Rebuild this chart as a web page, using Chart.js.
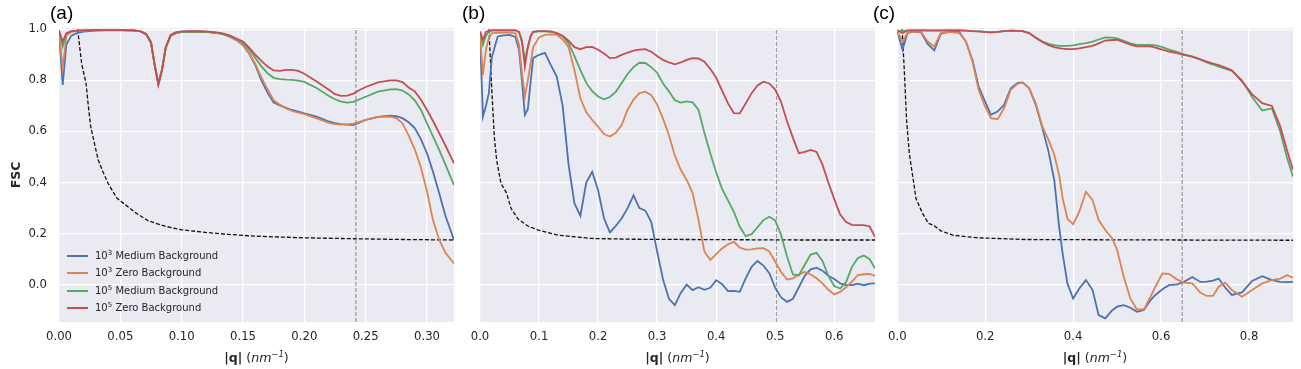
<!DOCTYPE html>
<html>
<head>
<meta charset="utf-8">
<script src="https://cdn.jsdelivr.net/npm/chart.js@4.4.1/dist/chart.umd.min.js"></script>
<style>
  body { margin: 0; background: #fff; }
  #wrap { position: relative; width: 1301px; height: 369px; overflow: hidden; font-family: "DejaVu Sans", sans-serif; color: #262626; }
  canvas { position: absolute; top: 0; }
  .tag { position: absolute; top: 3px; font: 19px/19px "Liberation Sans", Arial, sans-serif; color: #000; }
  .xtitle { position: absolute; top: 350px; width: 200px; text-align: center; font-size: 12.5px; line-height: 15px; white-space: nowrap; }
  .xtitle sup { font-size: 8.5px; vertical-align: 5px; line-height: 0; }
  #legend { position: absolute; left: 67px; top: 247px; font-size: 10px; }
  #legend div { height: 17.33px; line-height: 17.33px; white-space: nowrap; }
  #legend sup { font-size: 7px; vertical-align: 4px; line-height: 0; }
  #legend .ln { display: inline-block; width: 21px; height: 2px; vertical-align: middle; margin-right: 7px; }
</style>
</head>
<body>
<div id="wrap">
  <canvas id="panelA" width="460" height="369" style="left:0px"></canvas>
  <canvas id="panelB" width="420" height="369" style="left:460px"></canvas>
  <canvas id="panelC" width="421" height="369" style="left:880px"></canvas>

  <div class="tag" style="left:50px">(a)</div>
  <div class="tag" style="left:462px">(b)</div>
  <div class="tag" style="left:873px">(c)</div>

  <div class="xtitle" style="left:156.5px"><b>|q|</b> (<i>nm<sup>−1</sup></i>)</div>
  <div class="xtitle" style="left:577.5px"><b>|q|</b> (<i>nm<sup>−1</sup></i>)</div>
  <div class="xtitle" style="left:995px"><b>|q|</b> (<i>nm<sup>−1</sup></i>)</div>

  <div id="legend">
    <div><span class="ln" style="background:#4c72b0"></span>10<sup>3</sup> Medium Background</div>
    <div><span class="ln" style="background:#dd8452"></span>10<sup>3</sup> Zero Background</div>
    <div><span class="ln" style="background:#55a868"></span>10<sup>5</sup> Medium Background</div>
    <div><span class="ln" style="background:#c44e52"></span>10<sup>5</sup> Zero Background</div>
  </div>
</div>

<script>
const seriesNames = ["10³ Medium Background", "10³ Zero Background", "10⁵ Medium Background", "10⁵ Zero Background"];
const colors = ["#4c72b0", "#dd8452", "#55a868", "#c44e52"];

const yMin = -0.146;
const yMax = 1.005;
const yTicks = [0, 0.2, 0.4, 0.6, 0.8, 1.0];

// panel (a)
const xTicksA = [0, 0.05, 0.1, 0.15, 0.2, 0.25, 0.3];
const xA = [0, 0.003, 0.006, 0.01, 0.015, 0.02, 0.03, 0.04, 0.05, 0.06, 0.066, 0.071, 0.075, 0.078, 0.081, 0.084, 0.087, 0.091, 0.095, 0.1, 0.11, 0.12, 0.13, 0.135, 0.14, 0.145, 0.15, 0.155, 0.16, 0.165, 0.17, 0.175, 0.18, 0.185, 0.19, 0.195, 0.2, 0.21, 0.22, 0.225, 0.23, 0.235, 0.24, 0.245, 0.25, 0.26, 0.27, 0.275, 0.28, 0.285, 0.29, 0.295, 0.3, 0.305, 0.31, 0.315, 0.322];
const blueA = [0.99, 0.782, 0.94, 0.975, 0.986, 0.991, 0.995, 0.996, 0.997, 0.996, 0.993, 0.98, 0.945, 0.86, 0.79, 0.845, 0.93, 0.975, 0.985, 0.99, 0.992, 0.99, 0.985, 0.979, 0.969, 0.956, 0.938, 0.905, 0.86, 0.8, 0.752, 0.713, 0.702, 0.692, 0.684, 0.678, 0.671, 0.658, 0.639, 0.633, 0.629, 0.627, 0.625, 0.635, 0.645, 0.657, 0.662, 0.66, 0.652, 0.636, 0.613, 0.57, 0.514, 0.44, 0.357, 0.27, 0.175];
const orangeA = [0.993, 0.848, 0.975, 0.99, 0.994, 0.995, 0.997, 0.997, 0.997, 0.996, 0.993, 0.981, 0.948, 0.86, 0.785, 0.842, 0.928, 0.975, 0.985, 0.99, 0.992, 0.99, 0.985, 0.979, 0.97, 0.957, 0.94, 0.905, 0.865, 0.812, 0.765, 0.722, 0.705, 0.69, 0.68, 0.674, 0.668, 0.651, 0.634, 0.629, 0.627, 0.628, 0.631, 0.638, 0.645, 0.657, 0.658, 0.652, 0.632, 0.585, 0.53, 0.46, 0.365, 0.25, 0.175, 0.125, 0.083];
const greenA = [0.995, 0.932, 0.982, 0.992, 0.995, 0.996, 0.997, 0.997, 0.997, 0.996, 0.993, 0.982, 0.95, 0.86, 0.785, 0.84, 0.925, 0.975, 0.985, 0.99, 0.991, 0.99, 0.985, 0.98, 0.971, 0.96, 0.948, 0.92, 0.888, 0.855, 0.828, 0.81, 0.805, 0.803, 0.802, 0.799, 0.794, 0.77, 0.739, 0.726, 0.717, 0.713, 0.716, 0.726, 0.736, 0.756, 0.765, 0.766, 0.76, 0.745, 0.722, 0.685, 0.632, 0.58, 0.527, 0.47, 0.39];
const redA = [0.995, 0.952, 0.985, 0.993, 0.995, 0.996, 0.997, 0.997, 0.997, 0.996, 0.993, 0.982, 0.95, 0.86, 0.782, 0.84, 0.93, 0.978, 0.988, 0.992, 0.993, 0.992, 0.987, 0.982, 0.974, 0.963, 0.952, 0.928, 0.901, 0.876, 0.854, 0.839, 0.837, 0.841, 0.841, 0.837, 0.826, 0.796, 0.763, 0.746, 0.739, 0.74, 0.748, 0.762, 0.774, 0.792, 0.8, 0.8, 0.793, 0.772, 0.757, 0.725, 0.684, 0.64, 0.593, 0.545, 0.475];
const thrXA = [0.0152, 0.0185, 0.022, 0.0239, 0.0258, 0.029, 0.032, 0.036, 0.04, 0.047, 0.0538, 0.062, 0.0728, 0.0864, 0.1, 0.119, 0.138, 0.16, 0.196, 0.24, 0.28, 0.322];
const thrYA = [1.0, 0.864, 0.79, 0.7, 0.62, 0.55, 0.488, 0.44, 0.397, 0.34, 0.314, 0.283, 0.25, 0.229, 0.215, 0.205, 0.197, 0.19, 0.184, 0.18, 0.177, 0.175];
const cutA = 0.242;

// panel (b)
const xTicksB = [0, 0.1, 0.2, 0.3, 0.4, 0.5, 0.6];
const xB = [0, 0.005, 0.01, 0.015, 0.02, 0.03, 0.04, 0.05, 0.06, 0.066, 0.071, 0.076, 0.081, 0.086, 0.09,
  0.1, 0.11, 0.12, 0.13, 0.14, 0.15, 0.16, 0.17, 0.18, 0.19, 0.2, 0.21, 0.22, 0.23, 0.24, 0.25, 0.26, 0.27, 0.28, 0.29,
  0.3, 0.31, 0.32, 0.33, 0.34, 0.35, 0.36, 0.37, 0.38, 0.39, 0.4, 0.41, 0.42, 0.43, 0.44, 0.45, 0.46, 0.47, 0.48, 0.49,
  0.5, 0.51, 0.52, 0.53, 0.54, 0.55, 0.56, 0.57, 0.58, 0.59, 0.6, 0.61, 0.62, 0.63, 0.64, 0.65, 0.66, 0.669];
const blueB = [0.98, 0.658, 0.7, 0.75, 0.89, 0.972, 0.976, 0.978, 0.97, 0.92, 0.8, 0.665, 0.687, 0.8, 0.887,
  0.9, 0.908, 0.86, 0.815, 0.7, 0.47, 0.318, 0.27, 0.4, 0.442, 0.37, 0.26, 0.205, 0.23, 0.26, 0.3, 0.35, 0.3, 0.29, 0.246,
  0.13, 0.02, -0.055, -0.08, -0.032, 0.0, -0.021, -0.01, -0.02, -0.012, 0.018, 0.002, -0.025, -0.024, -0.028, 0.025, 0.07, 0.093, 0.075, 0.045,
  -0.012, -0.05, -0.067, -0.055, -0.01, 0.035, 0.06, 0.067, 0.055, 0.035, 0.022, 0.005, -0.002, -0.002, 0.004, -0.002, 0.004, 0.005];
const orangeB = [0.985, 0.82, 0.92, 0.965, 0.985, 0.986, 0.987, 0.987, 0.984, 0.94, 0.83, 0.737, 0.8, 0.87, 0.93,
  0.968, 0.978, 0.98, 0.978, 0.96, 0.93, 0.84, 0.73, 0.675, 0.645, 0.619, 0.59, 0.58, 0.595, 0.625, 0.685, 0.725, 0.75, 0.756, 0.743,
  0.705, 0.65, 0.585, 0.505, 0.45, 0.41, 0.36, 0.255, 0.13, 0.097, 0.12, 0.142, 0.158, 0.168, 0.145, 0.137, 0.138, 0.142, 0.143, 0.13,
  0.09, 0.05, 0.02, 0.025, 0.04, 0.05, 0.04, 0.025, 0.005, -0.02, -0.038, -0.028, -0.01, 0.012, 0.038, 0.041, 0.042, 0.034];
const greenB = [0.991, 0.939, 0.975, 0.99, 0.996, 0.996, 0.996, 0.996, 0.996, 0.99, 0.95, 0.88, 0.93, 0.975, 0.99,
  0.992, 0.992, 0.99, 0.985, 0.972, 0.945, 0.895, 0.84, 0.79, 0.758, 0.737, 0.726, 0.735, 0.755, 0.79, 0.825, 0.852, 0.869, 0.868, 0.852,
  0.83, 0.788, 0.757, 0.722, 0.713, 0.718, 0.714, 0.685, 0.595, 0.515, 0.44, 0.375, 0.33, 0.285, 0.227, 0.19, 0.198, 0.225, 0.253, 0.266,
  0.252, 0.195, 0.11, 0.04, 0.036, 0.078, 0.118, 0.125, 0.093, 0.035, -0.005, -0.015, 0.01, 0.07, 0.105, 0.114, 0.1, 0.063];
const redB = [0.991, 0.959, 0.99, 0.995, 0.996, 0.996, 0.996, 0.996, 0.996, 0.99, 0.955, 0.854, 0.93, 0.975, 0.99,
  0.993, 0.993, 0.992, 0.985, 0.975, 0.955, 0.93, 0.922, 0.93, 0.931, 0.92, 0.905, 0.887, 0.889, 0.9, 0.909, 0.916, 0.92, 0.922, 0.912,
  0.895, 0.88, 0.87, 0.863, 0.87, 0.88, 0.887, 0.886, 0.873, 0.845, 0.81, 0.76, 0.71, 0.672, 0.671, 0.71, 0.75, 0.78, 0.795, 0.788,
  0.764, 0.715, 0.64, 0.575, 0.515, 0.52, 0.528, 0.52, 0.47, 0.4, 0.335, 0.275, 0.245, 0.234, 0.233, 0.233, 0.228, 0.187];
const thrXB = [0.0152, 0.0197, 0.0242, 0.0282, 0.0355, 0.0451, 0.0525, 0.0649, 0.0818, 0.0987, 0.1325, 0.189, 0.26, 0.35, 0.45, 0.55, 0.669];
const thrYB = [1.0, 0.776, 0.58, 0.488, 0.397, 0.358, 0.299, 0.256, 0.229, 0.214, 0.194, 0.181, 0.178, 0.177, 0.176, 0.175, 0.175];
const cutB = 0.502;

// panel (c)
const xTicksC = [0, 0.2, 0.4, 0.6, 0.8];
const xC = [0, 0.012, 0.023, 0.035, 0.054, 0.069, 0.084, 0.099, 0.118, 0.141,
  0.156, 0.171, 0.185, 0.198, 0.213, 0.228, 0.243, 0.258, 0.273, 0.285,
  0.3, 0.315, 0.33, 0.344, 0.357, 0.368, 0.376, 0.387, 0.4, 0.414,
  0.429, 0.444, 0.458, 0.473, 0.489, 0.5, 0.515, 0.53, 0.545, 0.561,
  0.576, 0.587, 0.603, 0.618, 0.636, 0.652, 0.671, 0.689, 0.704, 0.718,
  0.731, 0.746, 0.761, 0.784, 0.807, 0.83, 0.852, 0.871, 0.886, 0.9];
const blueC = [0.991, 0.92, 0.985, 0.991, 0.988, 0.943, 0.917, 0.983, 0.99, 0.99,
  0.952, 0.88, 0.776, 0.724, 0.665, 0.678, 0.704, 0.769, 0.789, 0.792,
  0.769, 0.704, 0.613, 0.521, 0.41, 0.227, 0.123, 0.004, -0.054, -0.015,
  0.018, -0.02, -0.119, -0.132, -0.1, -0.086, -0.08, -0.09, -0.106, -0.099,
  -0.06, -0.04, -0.018, -0.002, 0.001, 0.011, 0.03, 0.011, 0.012, 0.016,
  0.024, -0.012, -0.04, -0.03, 0.015, 0.033, 0.018, 0.011, 0.01, 0.011];
const orangeC = [0.991, 0.952, 0.985, 0.99, 0.99, 0.952, 0.932, 0.985, 0.99, 0.985,
  0.952, 0.874, 0.763, 0.704, 0.652, 0.648, 0.691, 0.763, 0.786, 0.792,
  0.769, 0.71, 0.619, 0.567, 0.51, 0.43, 0.34, 0.258, 0.237, 0.286,
  0.364, 0.332, 0.253, 0.214, 0.181, 0.136, 0.031, -0.054, -0.097, -0.097,
  -0.047, -0.008, 0.044, 0.042, 0.021, 0.008, 0.005, -0.031, -0.044, -0.044,
  -0.008, 0.008, -0.021, -0.047, -0.021, 0.005, 0.018, 0.024, 0.037, 0.028];
const greenC = [0.995, 0.993, 0.996, 0.996, 0.996, 0.995, 0.995, 0.995, 0.996, 0.996,
  0.995, 0.993, 0.992, 0.99, 0.988, 0.99, 0.993, 0.995, 0.994, 0.993,
  0.985, 0.968, 0.952, 0.943, 0.938, 0.935, 0.935, 0.935, 0.937, 0.942,
  0.946, 0.952, 0.96, 0.968, 0.967, 0.964, 0.955, 0.945, 0.939, 0.939,
  0.939, 0.937, 0.93, 0.92, 0.912, 0.902, 0.893, 0.882, 0.87, 0.862,
  0.854, 0.846, 0.837, 0.8, 0.735, 0.682, 0.69, 0.6, 0.5, 0.423];
const redC = [0.995, 0.985, 0.995, 0.996, 0.996, 0.996, 0.996, 0.996, 0.996, 0.996,
  0.995, 0.993, 0.992, 0.99, 0.988, 0.99, 0.993, 0.995, 0.994, 0.993,
  0.985, 0.966, 0.95, 0.938, 0.93, 0.926, 0.924, 0.922, 0.922, 0.925,
  0.93, 0.935, 0.945, 0.956, 0.958, 0.959, 0.95, 0.94, 0.933, 0.933,
  0.933, 0.928, 0.92, 0.913, 0.907, 0.9, 0.893, 0.882, 0.873, 0.866,
  0.86, 0.85, 0.84, 0.796, 0.745, 0.711, 0.7, 0.62, 0.528, 0.449];
const thrXC = [0.011, 0.0159, 0.0211, 0.0273, 0.0364, 0.0424, 0.0575, 0.071, 0.084, 0.099, 0.126, 0.179, 0.29, 0.45, 0.65, 0.9];
const thrYC = [1.0, 0.841, 0.645, 0.514, 0.41, 0.338, 0.279, 0.24, 0.231, 0.211, 0.194, 0.184, 0.177, 0.176, 0.175, 0.174];
const cutC = 0.648;

Chart.defaults.font.family = "'DejaVu Sans', sans-serif";
Chart.defaults.color = "#262626";

// grey plot background like seaborn darkgrid
const bgPlugin = {
  id: "bg",
  beforeDraw(chart) {
    const a = chart.chartArea;
    const ctx = chart.ctx;
    ctx.save();
    ctx.fillStyle = "#eaeaf2";
    ctx.fillRect(a.left, a.top, a.right - a.left, a.bottom - a.top);
    ctx.restore();
  },
};

function toPoints(xs, ys) {
  return xs.map((x, j) => ({ x: x, y: ys[j] }));
}

function makePanel(id, p) {
  const datasets = p.curves.map((ys, i) => ({
    label: seriesNames[i],
    data: toPoints(p.x, ys),
    borderColor: colors[i],
    borderWidth: 1.8,
    pointRadius: 0,
    fill: false,
    order: 4 - i,
  }));
  datasets.push({
    label: "threshold",
    data: toPoints(p.thrX, p.thrY),
    borderColor: "#111",
    borderWidth: 1.3,
    borderDash: [4, 2],
    pointRadius: 0,
    order: 5,
  });
  datasets.push({
    label: "cutoff",
    data: [{ x: p.cut, y: yMin }, { x: p.cut, y: yMax }],
    borderColor: "#9e9e9e",
    borderWidth: 1.3,
    borderDash: [4, 2],
    pointRadius: 0,
    order: 6,
  });

  return new Chart(document.getElementById(id), {
    type: "line",
    data: { datasets: datasets },
    plugins: [bgPlugin],
    options: {
      responsive: false,
      animation: false,
      devicePixelRatio: 1,
      layout: { padding: { top: 28, right: p.rightPad, left: 0, bottom: 0 } },
      plugins: { legend: { display: false }, tooltip: { enabled: false } },
      scales: {
        x: {
          type: "linear",
          min: 0,
          max: p.xMax,
          afterBuildTicks: (s) => { s.ticks = p.xTicks.map((v) => ({ value: v })); },
          afterFit: (s) => { s.height = 47; },
          grid: { color: "#fff", lineWidth: 1.3, drawTicks: false },
          border: { display: false },
          ticks: {
            padding: 8,
            autoSkip: false,
            maxRotation: 0,
            font: { size: 11.7 },
            callback: (v) => v.toFixed(p.digits),
          },
        },
        y: {
          type: "linear",
          min: yMin,
          max: yMax,
          afterBuildTicks: (s) => { s.ticks = yTicks.map((v) => ({ value: v })); },
          afterFit: (s) => { s.width = p.yWidth; },
          grid: { color: "#fff", lineWidth: 1.3, drawTicks: false },
          border: { display: false },
          ticks: {
            display: p.showY,
            padding: 12,
            font: { size: 11.7 },
            callback: (v) => v.toFixed(1),
          },
          title: {
            display: p.showY,
            text: "FSC",
            font: { size: 12.5, weight: "bold" },
            padding: { top: 9, bottom: 0 },
          },
        },
      },
    },
  });
}

makePanel("panelA", {
  x: xA, curves: [blueA, orangeA, greenA, redA], thrX: thrXA, thrY: thrYA, cut: cutA,
  xMax: 0.322, xTicks: xTicksA, digits: 2, showY: true, yWidth: 59, rightPad: 6,
});
makePanel("panelB", {
  x: xB, curves: [blueB, orangeB, greenB, redB], thrX: thrXB, thrY: thrYB, cut: cutB,
  xMax: 0.669, xTicks: xTicksB, digits: 1, showY: false, yWidth: 20, rightPad: 5,
});
makePanel("panelC", {
  x: xC, curves: [blueC, orangeC, greenC, redC], thrX: thrXC, thrY: thrYC, cut: cutC,
  xMax: 0.9, xTicks: xTicksC, digits: 1, showY: false, yWidth: 17, rightPad: 8,
});
</script>
</body>
</html>
